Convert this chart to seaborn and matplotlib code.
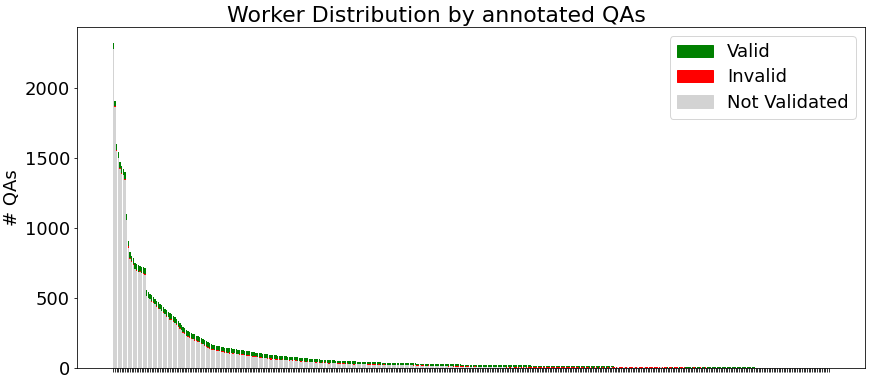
import matplotlib
matplotlib.use('Agg')
import matplotlib.pyplot as plt
from matplotlib.patches import Patch
import seaborn as sns
import pandas as pd

TITLE = 'Worker Distribution by annotated QAs'
YLABEL = '# QAs'
LEGEND_LABELS = ['Valid', 'Invalid', 'Not Validated']
COLORS = ['green', 'red', 'lightgrey']

# total QAs per worker, sorted descending
TOTAL = [
    2320, 1910, 1600, 1540, 1470, 1440, 1425, 1400, 1100, 910, 830, 800, 785, 750, 740, 735, 728, 722, 718, 712,
    555, 545, 530, 520, 510, 495, 482, 470, 460, 450, 438, 425, 412, 400, 392, 385, 375, 362, 348, 336,
    322, 310, 296, 283, 270, 262, 255, 250, 245, 240, 232, 226, 220, 213, 206, 198, 190, 183, 176, 170,
    166, 163, 160, 157, 154, 150, 148, 146, 144, 142, 141, 140, 138, 136, 134, 132, 130, 128, 126, 124,
    122, 120, 118, 116, 114, 112, 110, 108, 106, 104, 102, 100, 99, 97, 96, 94, 93, 91, 90, 88,
    87, 86, 85, 84, 83, 82, 81, 80, 79, 78, 77, 76, 74, 72, 71, 70, 69, 68, 67, 66,
    65, 64, 63, 62, 61, 60, 59, 58, 58, 57, 56, 55, 55, 54, 53, 53, 52, 52, 51, 50,
    50, 49, 49, 48, 48, 47, 47, 46, 46, 45, 45, 44, 44, 43, 43, 42, 42, 41, 41, 40,
    40, 40, 39, 39, 39, 38, 38, 38, 37, 37, 37, 36, 36, 36, 35, 35, 35, 34, 34, 34,
    33, 33, 33, 32, 32, 32, 31, 31, 31, 30, 30, 30, 30, 29, 29, 29, 29, 28, 28, 28,
    28, 27, 27, 27, 27, 26, 26, 26, 26, 26, 25, 25, 25, 25, 24, 24, 24, 24, 24, 23,
    23, 23, 23, 23, 22, 22, 22, 22, 22, 21, 21, 21, 21, 21, 21, 20, 20, 20, 20, 20,
    20, 19, 19, 19, 19, 19, 18, 18, 18, 18, 18, 18, 17, 17, 17, 17, 17, 17, 17, 16,
    16, 16, 16, 16, 16, 16, 15, 15, 15, 15, 15, 15, 14, 14, 14, 14, 14, 14, 14, 13,
    13, 13, 13, 13, 13, 13, 12, 12, 12, 12, 12, 12, 12, 12, 11, 11, 11, 11, 11, 11,
    11, 11, 10, 10, 10, 10, 10, 10, 10, 10, 10, 9, 9, 9, 9, 9, 9, 9, 9, 9,
    9, 9, 9, 9, 8, 8, 8, 8, 8, 8, 8, 8, 8, 8, 7, 7, 7, 7, 7, 7,
    7, 7, 7, 7, 7, 7, 6, 6, 6, 6, 6, 6, 6, 6, 6, 6, 6, 6, 5, 5,
    5, 5, 5, 5, 5, 5, 5, 5, 5, 5, 5, 5, 4, 4, 4, 4, 4, 4, 4, 4,
    4, 4, 4, 4, 4, 4, 4, 3, 3, 3, 3, 3, 3, 3, 3, 3, 3, 3, 3, 3,
    3, 3, 3, 3, 2, 2, 2, 2, 2, 2, 2, 2, 2, 2, 2, 2, 2, 2, 2, 2,
    2, 2, 2, 1, 1, 1, 1, 1, 1, 1, 1, 1,
]

VALID = [
    42, 38, 45, 40, 44, 48, 46, 50, 42, 40, 44, 38, 45, 40, 42, 46, 38, 44, 40, 42,
    40, 42, 38, 44, 40, 36, 42, 40, 38, 44, 40, 38, 42, 36, 40, 38, 42, 40, 36, 38,
    36, 40, 38, 35, 38, 36, 34, 38, 35, 36, 34, 36, 33, 35, 34, 32, 35, 33, 34, 32,
    33, 32, 34, 31, 33, 32, 30, 33, 31, 32, 30, 31, 32, 30, 31, 29, 30, 31, 29, 30,
    29, 30, 28, 29, 30, 28, 27, 29, 28, 27, 28, 27, 26, 28, 27, 26, 27, 25, 26, 27,
    25, 26, 24, 25, 23, 24, 25, 23, 24, 22, 23, 24, 22, 23, 21, 22, 23, 21, 22, 20,
    21, 20, 22, 19, 20, 21, 19, 20, 18, 19, 20, 18, 19, 17, 18, 19, 17, 18, 16, 17,
    18, 16, 17, 18, 16, 17, 15, 16, 17, 15, 16, 15, 16, 14, 15, 16, 14, 15, 14, 15,
    14, 15, 14, 13, 15, 14, 13, 14, 13, 14, 12, 13, 14, 12, 13, 12, 13, 12, 13, 12,
    13, 14, 12, 13, 14, 12, 13, 12, 14, 13, 12, 13, 14, 12, 13, 12, 14, 13, 12, 13,
    14, 13, 15, 14, 13, 14, 15, 13, 14, 15, 14, 13, 15, 14, 13, 14, 15, 14, 13, 14,
    14, 15, 13, 14, 15, 14, 13, 15, 14, 13, 14, 15, 14, 13, 14, 13, 14, 15, 13, 14,
    14, 13, 14, 13, 14, 13, 12, 13, 12, 13, 12, 13, 12, 12, 13, 12, 12, 11, 12, 12,
    11, 12, 11, 12, 11, 11, 10, 11, 10, 11, 10, 11, 10, 10, 9, 10, 10, 9, 10, 9,
    9, 10, 9, 9, 10, 9, 8, 9, 8, 9, 8, 8, 9, 8, 8, 7, 8, 8, 7, 8,
    6, 7, 5, 6, 5, 6, 5, 6, 5, 6, 5, 5, 4, 5, 4, 5, 4, 5, 4, 5,
    4, 5, 4, 5, 4, 4, 4, 3, 4, 4, 3, 4, 4, 3, 4, 3, 3, 4, 3, 3,
    3, 4, 3, 3, 3, 4, 3, 3, 3, 3, 2, 3, 3, 3, 2, 3, 3, 2, 3, 2,
    3, 2, 3, 2, 3, 2, 3, 2, 2, 3, 2, 2, 2, 2, 2, 2, 2, 2, 2, 2,
    2, 2, 2, 2, 2, 2, 2, 2, 1, 2, 1, 2, 1, 2, 1, 2, 1, 1, 2, 1,
    1, 2, 1, 2, 1, 1, 1, 1, 1, 1, 1, 1, 1, 1, 1, 1, 1, 1, 1, 1,
    1, 1, 1, 1, 1, 0, 1, 0, 1, 1, 0, 1,
]

INVALID = [
    2, 4, 6, 3, 2, 5, 3, 4, 2, 10, 8, 3, 2, 4, 2, 3, 5, 2, 4, 3,
    3, 6, 2, 4, 8, 3, 2, 5, 3, 2, 6, 3, 4, 2, 8, 3, 5, 2, 4, 3,
    5, 2, 8, 3, 4, 2, 6, 3, 2, 10, 3, 4, 2, 5, 3, 8, 2, 4, 3, 6,
    3, 5, 2, 8, 3, 4, 2, 6, 3, 2, 10, 3, 4, 2, 5, 3, 8, 2, 4, 3,
    5, 2, 4, 3, 8, 2, 4, 3, 6, 2, 3, 5, 2, 4, 3, 9, 2, 3, 4, 2,
    3, 6, 2, 4, 3, 2, 5, 3, 8, 2, 3, 4, 2, 6, 3, 2, 4, 3, 2, 5,
    2, 3, 4, 2, 6, 3, 2, 4, 3, 2, 5, 2, 3, 4, 2, 3, 6, 2, 3, 2,
    3, 2, 4, 2, 3, 5, 2, 3, 2, 4, 2, 3, 2, 5, 3, 2, 4, 2, 3, 2,
    2, 3, 2, 4, 2, 3, 2, 2, 4, 2, 3, 2, 2, 3, 2, 4, 2, 2, 3, 2,
    2, 3, 2, 2, 4, 2, 3, 2, 2, 3, 2, 4, 2, 2, 3, 2, 2, 3, 2, 2,
    2, 3, 2, 2, 3, 2, 2, 4, 2, 3, 2, 2, 3, 2, 2, 3, 2, 2, 3, 2,
    2, 2, 3, 2, 2, 3, 2, 2, 3, 2, 2, 2, 3, 2, 2, 3, 2, 2, 2, 3,
    2, 2, 2, 3, 2, 2, 3, 2, 2, 2, 3, 2, 2, 3, 2, 2, 2, 3, 2, 2,
    2, 2, 3, 2, 2, 2, 3, 2, 2, 2, 3, 2, 2, 2, 3, 2, 2, 2, 3, 2,
    2, 1, 2, 2, 1, 2, 2, 1, 2, 2, 2, 1, 2, 2, 1, 2, 2, 1, 2, 1,
    1, 1, 2, 1, 1, 1, 2, 1, 1, 1, 1, 1, 2, 1, 1, 1, 1, 1, 2, 1,
    1, 1, 2, 1, 1, 1, 1, 2, 1, 1, 1, 1, 1, 2, 1, 1, 1, 1, 1, 1,
    1, 1, 1, 2, 1, 1, 1, 1, 1, 1, 1, 1, 1, 1, 1, 1, 1, 1, 1, 1,
    1, 1, 1, 1, 1, 1, 1, 1, 1, 1, 1, 1, 1, 1, 1, 1, 0, 1, 1, 1,
    1, 1, 0, 1, 1, 0, 1, 0, 1, 0, 1, 0, 1, 0, 1, 0, 1, 1, 0, 1,
    1, 0, 1, 0, 0, 1, 0, 0, 1, 0, 0, 1, 0, 0, 1, 0, 0, 0, 1, 0,
    0, 1, 0, 0, 0, 0, 0, 1, 0, 0, 1, 0,
]

n = len(TOTAL)
df = pd.DataFrame({
    'worker': [str(i) for i in range(n)],
    'valid': VALID,
    'invalid': INVALID,
})
df['not_validated'] = pd.Series(TOTAL) - df['valid'] - df['invalid']
# cumulative heights: grey at the bottom, red next, green on top
df['upto_invalid'] = df['not_validated'] + df['invalid']
df['upto_valid'] = df['upto_invalid'] + df['valid']

fig, ax = plt.subplots(figsize=(872 / 72, 384 / 72), dpi=72)
fig.subplots_adjust(left=77 / 872, right=865 / 872, top=1 - 27 / 384, bottom=1 - 368 / 384)

for col, color in zip(['upto_valid', 'upto_invalid', 'not_validated'], COLORS):
    sns.barplot(data=df, x='worker', y=col, color=color, saturation=1,
                errorbar=None, linewidth=0, ax=ax)

pad = 0.05 * (n - 0.2)
ax.set_xlim(-0.4 - pad, n - 0.6 + pad)
ax.set_xticks(range(n))
ax.set_xticklabels([''] * n)
ax.set_xlabel('')
ax.set_ylabel(YLABEL, fontsize=18)
ax.tick_params(axis='y', labelsize=18)

handles = [Patch(color=c, label=l) for c, l in zip(COLORS, LEGEND_LABELS)]
ax.legend(handles=handles, loc='upper right', fontsize=18, labelspacing=0.4)
fig.suptitle(TITLE, fontsize=22, x=0.5, y=0.985)

plt.savefig('out.png', dpi=72)
